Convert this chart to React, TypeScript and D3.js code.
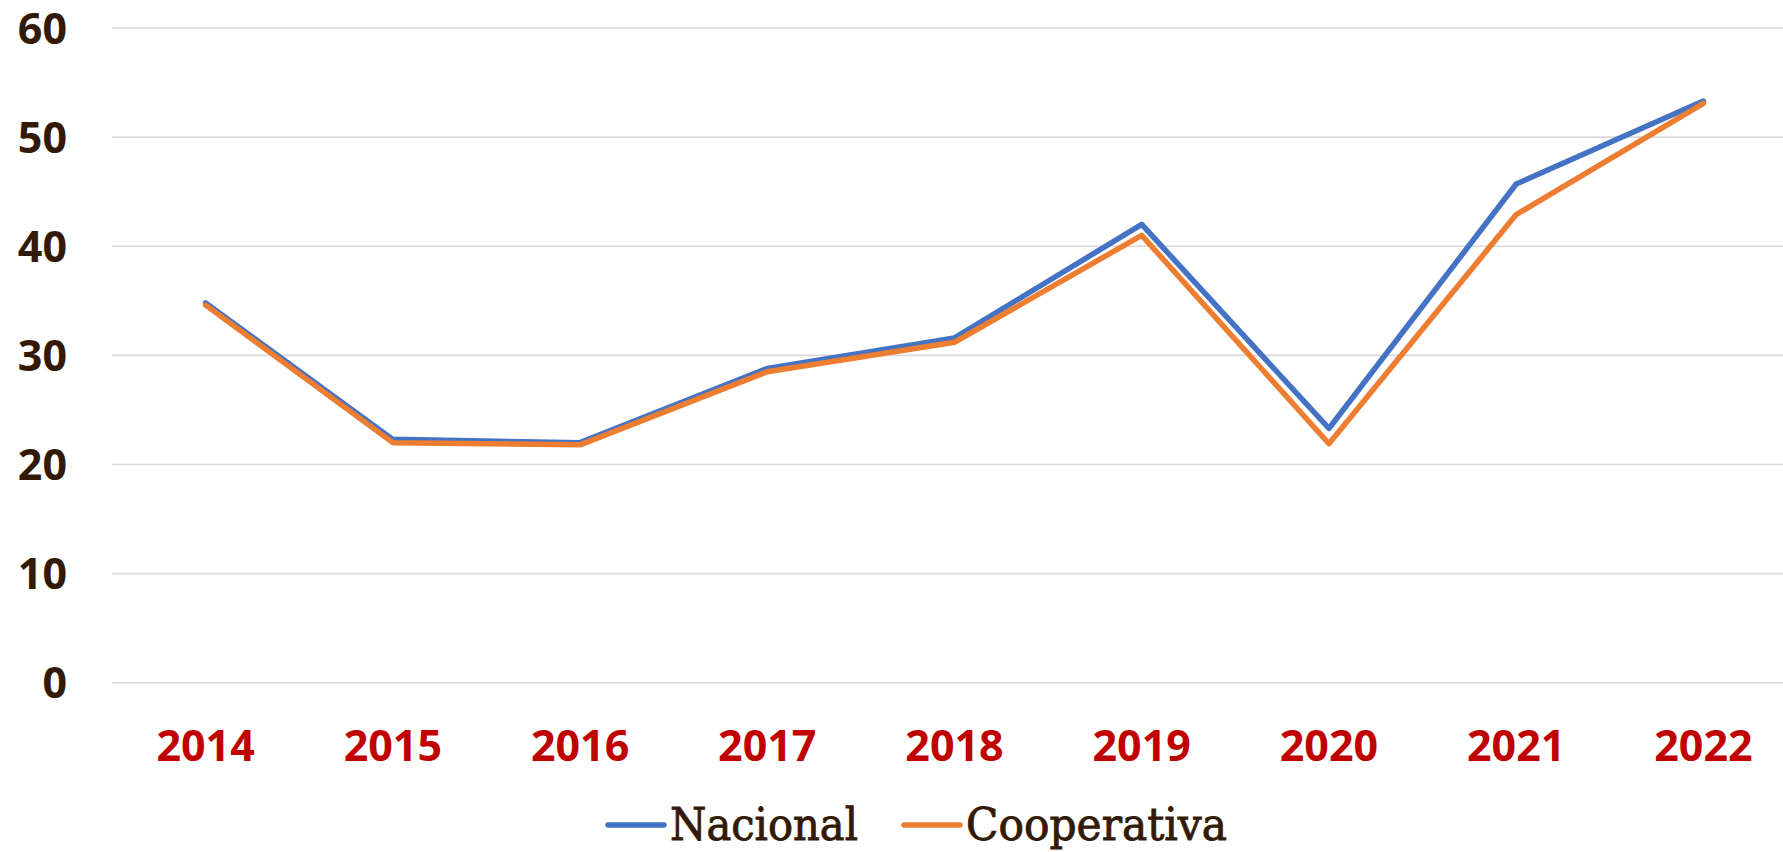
import React, { useEffect, useRef } from "react";
import * as d3 from "d3";

// data
const years = ["2014", "2015", "2016", "2017", "2018", "2019", "2020", "2021", "2022"];
const nacional = [34.8, 22.3, 22.0, 28.8, 31.6, 42.0, 23.3, 45.7, 53.3];
const cooperativa = [34.6, 22.0, 21.8, 28.5, 31.2, 41.0, 21.9, 42.9, 53.1];
const yTicks = [0, 10, 20, 30, 40, 50, 60];

const W = 1783;
const H = 852;

function App() {
  const svgRef = useRef<SVGSVGElement>(null);

  useEffect(() => {
    const svg = d3.select(svgRef.current);
    svg.selectAll("*").remove();

    const x = d3.scalePoint<string>().domain(years).range([112, 1797]).padding(0.5);
    const y = d3.scaleLinear().domain([0, 60]).range([682.7, 28]);

    // gridlines
    svg.append("g")
      .selectAll("line")
      .data(yTicks)
      .join("line")
      .attr("x1", 112)
      .attr("x2", 1797)
      .attr("y1", d => y(d))
      .attr("y2", d => y(d))
      .attr("stroke", "#d9d9d9")
      .attr("stroke-width", 1.6);

    // y labels
    svg.append("g")
      .selectAll("text")
      .data(yTicks)
      .join("text")
      .attr("x", 67)
      .attr("y", d => y(d) + 15.5)
      .attr("text-anchor", "end")
      .attr("font-family", "'Open Sans', sans-serif")
      .attr("font-weight", 700)
      .attr("font-size", 43)
      .attr("fill", "#331a06")
      .text(d => d);

    // x labels
    svg.append("g")
      .selectAll("text")
      .data(years)
      .join("text")
      .attr("x", d => x(d)!)
      .attr("y", 761)
      .attr("text-anchor", "middle")
      .attr("font-family", "'Open Sans', sans-serif")
      .attr("font-weight", 700)
      .attr("font-size", 43)
      .attr("fill", "#c00000")
      .text(d => d);

    const line = d3.line<number>()
      .x((_, i) => x(years[i])!)
      .y(d => y(d));

    const series = [
      { name: "Nacional", values: nacional, color: "#4472c4" },
      { name: "Cooperativa", values: cooperativa, color: "#ed7d31" },
    ];

    series.forEach(s => {
      svg.append("path")
        .datum(s.values)
        .attr("d", line)
        .attr("fill", "none")
        .attr("stroke", s.color)
        .attr("stroke-width", 5.5)
        .attr("stroke-linejoin", "round")
        .attr("stroke-linecap", "round");
    });

    // legend
    const legend = [
      { name: "Nacional", color: "#4472c4", x: 608, len: 188 },
      { name: "Cooperativa", color: "#ed7d31", x: 904, len: 261 },
    ];
    legend.forEach(l => {
      svg.append("line")
        .attr("x1", l.x)
        .attr("x2", l.x + 56)
        .attr("y1", 825)
        .attr("y2", 825)
        .attr("stroke", l.color)
        .attr("stroke-width", 5.5)
        .attr("stroke-linecap", "round");
      svg.append("text")
        .attr("x", l.x + 62)
        .attr("y", 840)
        .attr("font-family", "'DejaVu Serif', serif")
        .attr("font-size", 44)
        .attr("fill", "#331a06")
        .attr("stroke", "#331a06")
        .attr("stroke-width", 0.9)
        .attr("textLength", l.len)
        .attr("lengthAdjust", "spacingAndGlyphs")
        .text(l.name);
    });
  }, []);

  return (
    <svg
      ref={svgRef}
      width={W}
      height={H}
      style={{ position: "absolute", left: 0, top: 0, background: "#fff" }}
    />
  );
}

export default App;
